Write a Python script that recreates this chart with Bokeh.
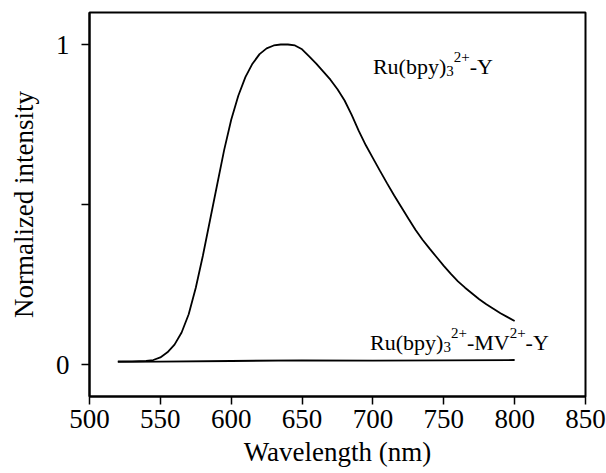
from bokeh.plotting import figure
from bokeh.models import Range1d, FixedTicker
from bokeh.core.properties import value
from bokeh.embed import file_html
from bokeh.resources import INLINE

# ---- data ----
wl_free = [520, 530, 540, 545, 550, 555, 560, 565, 570, 575, 580, 585, 590, 595, 600, 605, 610,
           615, 620, 625, 630, 635, 640, 645, 650, 655, 660, 665, 670, 675, 680, 685, 690, 695,
           700, 705, 710, 715, 720, 725, 730, 735, 740, 745, 750, 755, 760, 765, 770, 775, 780,
           785, 790, 795, 800]
int_free = [0.010, 0.010, 0.011, 0.014, 0.022, 0.038, 0.062, 0.100, 0.157, 0.240, 0.340, 0.450,
            0.560, 0.670, 0.765, 0.840, 0.898, 0.940, 0.970, 0.988, 0.997, 1.000, 1.000, 0.997,
            0.985, 0.963, 0.940, 0.915, 0.890, 0.860, 0.825, 0.780, 0.730, 0.685, 0.645, 0.605,
            0.566, 0.528, 0.492, 0.456, 0.421, 0.390, 0.362, 0.335, 0.308, 0.283, 0.260, 0.240,
            0.222, 0.204, 0.188, 0.174, 0.160, 0.148, 0.136]

wl_quenched = [520, 550, 600, 650, 700, 750, 800]
int_quenched = [0.008, 0.009, 0.011, 0.013, 0.012, 0.013, 0.014]

x_ticks = [500, 550, 600, 650, 700, 750, 800, 850]
y_ticks = [0, 0.5, 1]
y_tick_labels = {0: "0", 0.5: "", 1: "1"}

label_free = [("Ru(bpy)", "n"), ("3", "sub"), ("2+", "sup"), ("-Y", "n")]
label_quenched = [("Ru(bpy)", "n"), ("3", "sub"), ("2+", "sup"), ("-MV", "n"), ("2+", "sup"), ("-Y", "n")]

# ---- figure ----
SERIF = "Liberation Serif"
p = figure(width=606, height=473, output_backend="svg", toolbar_location=None,
           x_range=Range1d(500, 850), y_range=Range1d(-0.1, 1.1),
           min_border_left=89, min_border_right=21, min_border_top=12, min_border_bottom=77)
p.grid.visible = False
p.background_fill_color = "white"
p.border_fill_color = "white"
p.outline_line_color = "black"
p.outline_line_width = 2

p.xaxis.ticker = FixedTicker(ticks=x_ticks)
p.yaxis.ticker = FixedTicker(ticks=y_ticks)
p.yaxis.major_label_overrides = y_tick_labels
for ax in (p.xaxis[0], p.yaxis[0]):
    ax.axis_line_width = 2
    ax.axis_line_color = "black"
    ax.major_tick_in = 0
    ax.major_tick_out = 8
    ax.major_tick_line_width = 1.5
    ax.minor_tick_line_color = None
    ax.major_label_text_font = SERIF
    ax.major_label_text_font_size = "27px"
    ax.major_label_text_color = "black"
    ax.axis_label_text_font = SERIF
    ax.axis_label_text_font_style = "normal"
    ax.axis_label_text_font_size = "27px"
    ax.axis_label_text_color = "black"
p.xaxis.axis_label = "Wavelength (nm)"
p.yaxis.axis_label = "Normalized intensity"
p.xaxis.major_label_standoff = 5
p.xaxis.axis_label_standoff = 6
p.yaxis.major_label_standoff = 12
p.yaxis.axis_label_standoff = 14

p.line(wl_free, int_free, line_color="black", line_width=1.8)
p.line(wl_quenched, int_quenched, line_color="black", line_width=1.8)

# ---- composite labels with sub/superscripts ----
TIMES_W = {"R": .667, "u": .5, "(": .333, "b": .5, "p": .5, "y": .5, ")": .333, "3": .5,
           "2": .5, "+": .564, "-": .333, "Y": .722, "M": .889, "V": .722}
MAIN = 22
SMALL = 15


def put_label(parts, x, y):
    off = 0.0
    for txt, kind in parts:
        size = MAIN if kind == "n" else SMALL
        dy = 0 if kind == "n" else (4 if kind == "sub" else -10)
        p.text(x=[x], y=[y], text=[txt], x_offset=off, y_offset=dy,
               text_font=value(SERIF), text_font_size=f"{size}px",
               text_color="black", text_baseline="alphabetic", text_align="left")
        off += sum(TIMES_W.get(c, .5) for c in txt) * size


put_label(label_free, 700, 0.93)
put_label(label_quenched, 698, 0.068)

open("out.html", "w").write(file_html(p, INLINE))
